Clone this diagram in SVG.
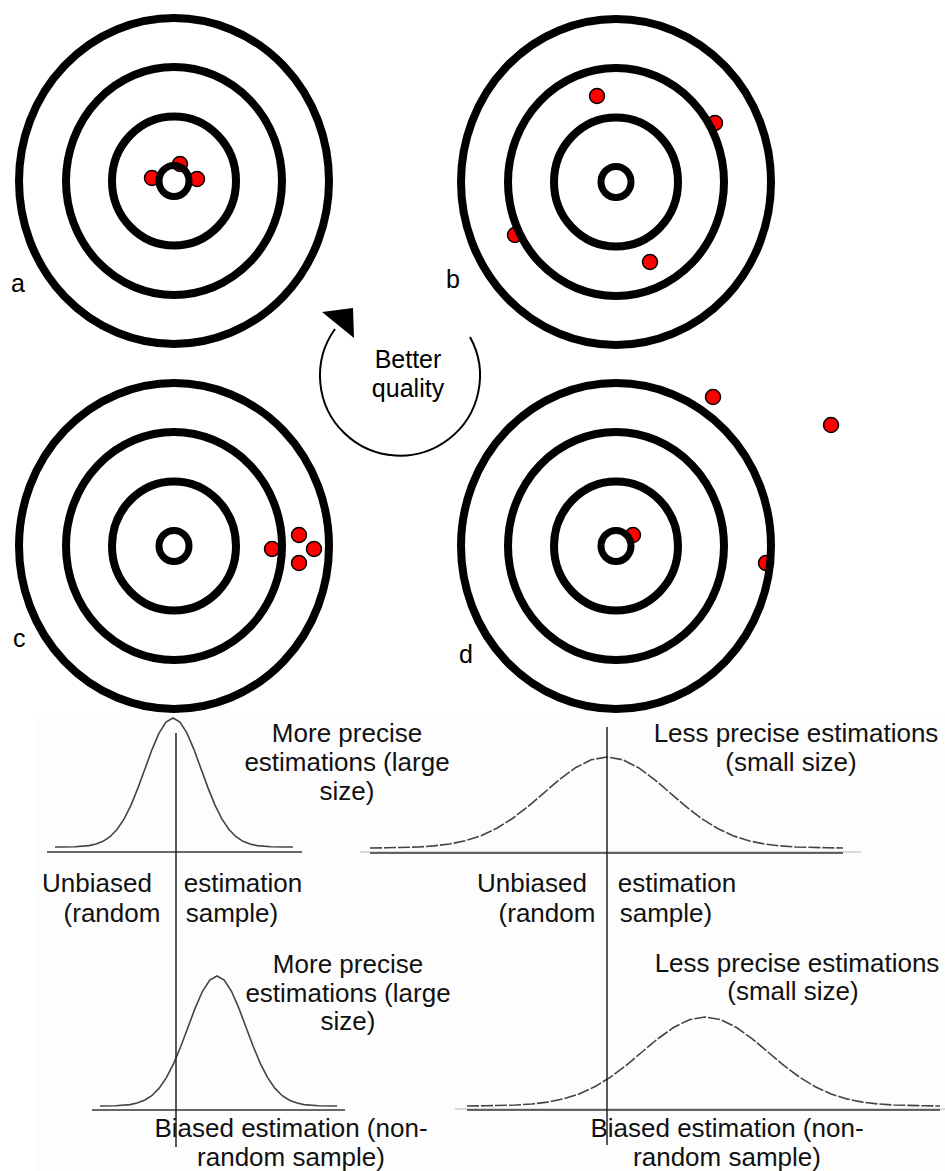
<svg xmlns="http://www.w3.org/2000/svg" width="945" height="1171" viewBox="0 0 945 1171">
  <style>
    .ring{fill:none;stroke:#000;stroke-width:8}
    .bull{fill:none;stroke:#000;stroke-width:7}
    .dot{fill:#ff0000;stroke:#000;stroke-width:1.5}
    .lbl{font-family:"Liberation Sans",Arial,sans-serif;font-size:25px;fill:#000}
    .txt{font-family:"Liberation Sans",Arial,sans-serif;font-size:26px;fill:#111;text-anchor:middle}
    .axis{stroke:#333;stroke-width:1.6}
    .faint{stroke:#ccc;stroke-width:1.5}
    .vline{stroke:#222;stroke-width:1.5}
    .curve{fill:none;stroke:#444;stroke-width:1.6}
    .wcurve{fill:none;stroke:#444;stroke-width:1.6;stroke-dasharray:12 2}
    .arc{fill:none;stroke:#000;stroke-width:2}
  </style>
  <defs>
    <g id="target">
      <ellipse class="ring" cx="0" cy="0" rx="155" ry="163"/>
      <ellipse class="ring" cx="0" cy="0" rx="108" ry="114"/>
      <ellipse class="ring" cx="0" cy="0" rx="62" ry="64.5"/>
      <ellipse class="bull" cx="0" cy="0" rx="15" ry="15.5"/>
    </g>
  </defs>
  <rect x="0" y="0" width="945" height="1171" fill="#fff"/>
  <rect x="35" y="713" width="910" height="458" fill="#fdfdfd"/>

  <g id="target-a">
    <circle class="dot" cx="152" cy="178" r="7.5"/>
    <circle class="dot" cx="180" cy="164" r="7.5"/>
    <circle class="dot" cx="197" cy="179" r="7.5"/>
    <use href="#target" x="174" y="181"/>
    <text class="lbl" x="11" y="292">a</text>
  </g>
  <g id="target-b">
    <circle class="dot" cx="597" cy="96" r="7.5"/>
    <circle class="dot" cx="715" cy="123" r="7.5"/>
    <circle class="dot" cx="515" cy="235" r="7.5"/>
    <circle class="dot" cx="650" cy="262" r="7.5"/>
    <use href="#target" x="616" y="182"/>
    <text class="lbl" x="446" y="288">b</text>
  </g>
  <g id="target-c">
    <circle class="dot" cx="272" cy="549" r="7.5"/>
    <circle class="dot" cx="299" cy="535" r="7.5"/>
    <circle class="dot" cx="314" cy="549" r="7.5"/>
    <circle class="dot" cx="299" cy="563" r="7.5"/>
    <use href="#target" x="174" y="546"/>
    <text class="lbl" x="13" y="647">c</text>
  </g>
  <g id="target-d">
    <circle class="dot" cx="713" cy="397" r="7.5"/>
    <circle class="dot" cx="831" cy="425" r="7.5"/>
    <circle class="dot" cx="633" cy="535" r="7.5"/>
    <circle class="dot" cx="766" cy="563" r="7.5"/>
    <use href="#target" x="616" y="546"/>
    <text class="lbl" x="459" y="663">d</text>
  </g>

  <g id="connectors">
    <path class="arc" d="M 470 337 A 80 80 0 1 1 335 329"/>
    <polygon points="322,312 353,308 354,338" fill="#000"/>
  </g>
  <g id="quality-label">
    <text class="lbl" x="408" y="368" text-anchor="middle">Better</text>
    <text class="lbl" x="408" y="397" text-anchor="middle">quality</text>
  </g>

  <g id="chart-unbiased-precise">
    <line class="axis" x1="47" y1="852" x2="302" y2="852"/>
    <polyline class="curve" points="55,847 61,847 75,846.7 89,845.6 96,844.1 103,841.3 110,836.7 117,829.5 124,819.1 131,805.1 138,787.9 145,768.8 152,749.6 159,733.2 166,722 173,718 180,722 187,733.2 194,749.6 201,768.8 208,787.9 215,805.1 222,819.1 229,829.5 236,836.7 243,841.3 250,844.1 257,845.6 271,846.7 285,847 293,847"/>
    <text class="txt" x="347" y="742">More precise</text>
    <text class="txt" x="347" y="771">estimations (large</text>
    <text class="txt" x="347" y="800">size)</text>
    <text class="txt" x="97" y="892">Unbiased</text>
    <text class="txt" x="112" y="922">(random</text>
    <text class="txt" x="243" y="892">estimation</text>
    <text class="txt" x="232" y="922">sample)</text>
  </g>

  <g id="chart-unbiased-imprecise">
    <line class="faint" x1="360" y1="852" x2="861" y2="852"/>
    <line class="axis" x1="370" y1="853" x2="843" y2="853"/>
    <polyline class="wcurve" points="370,848 386.5,847.8 418,847 433.75,845.9 449.5,844 465.25,840.8 481,835.7 496.75,828.3 512.5,818.5 528.25,806.3 544,792.8 559.75,779.3 575.5,767.7 591.25,759.8 607,757 622.75,759.8 638.5,767.7 654.25,779.3 670,792.8 685.75,806.3 701.5,818.5 717.25,828.3 733,835.7 748.75,840.8 764.5,844 780.25,845.9 796,847 827.5,847.8 843,848"/>
    <text class="txt" x="796" y="742">Less precise estimations</text>
    <text class="txt" x="791" y="771">(small size)</text>
    <text class="txt" x="532" y="892">Unbiased</text>
    <text class="txt" x="547" y="922">(random</text>
    <text class="txt" x="677" y="892">estimation</text>
    <text class="txt" x="666" y="922">sample)</text>
  </g>

  <g id="chart-biased-precise">
    <line class="axis" x1="92" y1="1110" x2="345" y2="1110"/>
    <polyline class="curve" points="100,1106 101,1106 115.5,1105.7 130,1104.6 137,1103 144.5,1100.3 151.75,1095.7 159,1088.4 166.25,1077.9 173.5,1063.8 180.75,1046.5 188,1027.2 195.25,1007.9 202.5,991.3 209.75,980 217,976 224.25,980 231.5,991.3 238.75,1007.9 246,1027.2 253.25,1046.5 260.5,1063.8 267.75,1077.9 275,1088.4 282.25,1095.7 289.5,1100.3 297,1103 304,1104.6 318.5,1105.7 333,1106 337,1106"/>
    <text class="txt" x="348" y="973">More precise</text>
    <text class="txt" x="348" y="1002">estimations (large</text>
    <text class="txt" x="348" y="1030">size)</text>
    <text class="txt" x="291" y="1137">Biased estimation (non-</text>
    <text class="txt" x="291" y="1166">random sample)</text>
  </g>

  <g id="chart-biased-imprecise">
    <line class="faint" x1="455" y1="1109" x2="945" y2="1109"/>
    <line class="axis" x1="467" y1="1110" x2="940" y2="1110"/>
    <polyline class="wcurve" points="467,1106 484.5,1105.8 516,1105 531.75,1104 547.5,1102.1 563.25,1098.9 579,1094 594.75,1086.7 610.5,1077.1 626.25,1065.3 642,1052 657.75,1038.8 673.5,1027.5 689.25,1019.7 705,1017 720.75,1019.7 736.5,1027.5 752.25,1038.8 768,1052 783.75,1065.3 799.5,1077.1 815.25,1086.7 831,1094 846.75,1098.9 862.5,1102.1 878.25,1104 894,1105 925.5,1105.8 940,1106"/>
    <text class="txt" x="797" y="972">Less precise estimations</text>
    <text class="txt" x="793" y="1000">(small size)</text>
    <text class="txt" x="727" y="1137">Biased estimation (non-</text>
    <text class="txt" x="727" y="1166">random sample)</text>
  </g>

  <g id="reference-lines">
    <line class="vline" x1="176" y1="733" x2="176" y2="1147"/>
    <line class="vline" x1="607" y1="727" x2="607" y2="1145"/>
  </g>
</svg>
